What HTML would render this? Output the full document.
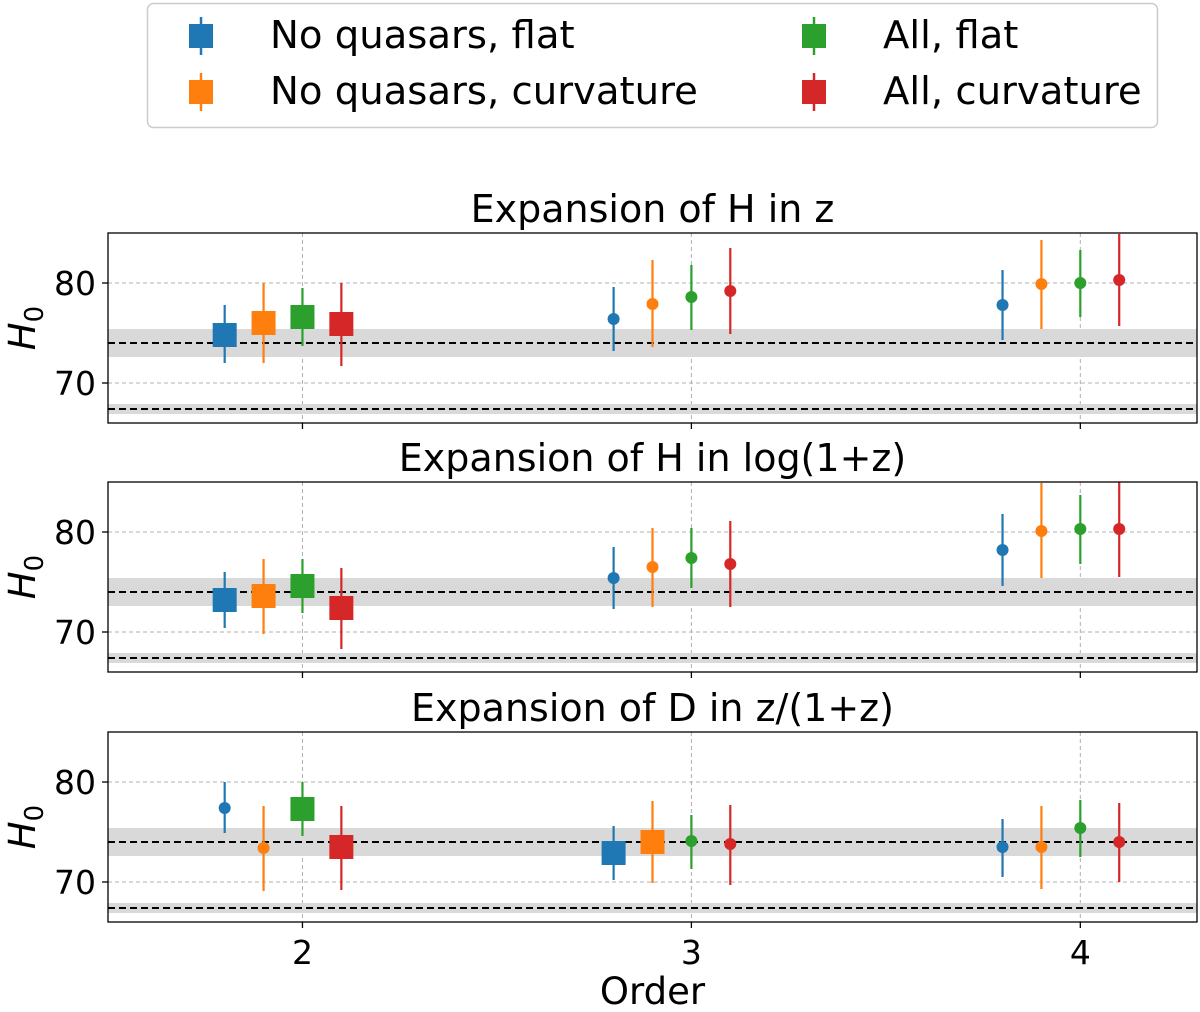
<!DOCTYPE html>
<html><head><meta charset="utf-8">
<style>
html,body{margin:0;padding:0;background:#fff;}
svg{display:block;font-family:"DejaVu Sans","Liberation Sans",sans-serif;}
</style></head>
<body>
<svg id="chart" width="1200" height="1012" viewBox="0 0 1200 1012" xmlns="http://www.w3.org/2000/svg">
<g>
<rect x="147.5" y="3.5" width="1010" height="124" rx="6" fill="#fff" stroke="#ccc" stroke-width="1.5"/>
<g><line x1="201" y1="17" x2="201" y2="55" stroke="#1f77b4" stroke-width="2.5"/><rect x="189" y="24" width="24" height="24" fill="#1f77b4"/><text x="270" y="48" font-size="38.6">No quasars, flat</text></g>
<g><line x1="201" y1="73" x2="201" y2="111" stroke="#ff7f0e" stroke-width="2.5"/><rect x="189" y="80" width="24" height="24" fill="#ff7f0e"/><text x="270" y="104" font-size="38.6">No quasars, curvature</text></g>
<g><line x1="814" y1="17" x2="814" y2="55" stroke="#2ca02c" stroke-width="2.5"/><rect x="802" y="24" width="24" height="24" fill="#2ca02c"/><text x="883" y="48" font-size="38.6">All, flat</text></g>
<g><line x1="814" y1="73" x2="814" y2="111" stroke="#d62728" stroke-width="2.5"/><rect x="802" y="80" width="24" height="24" fill="#d62728"/><text x="883" y="104" font-size="38.6">All, curvature</text></g>
</g>
</svg>
<script>
const titles = ["Expansion of H in z","Expansion of H in log(1+z)","Expansion of D in z/(1+z)"];
const orders = [2,3,4];
const seriesNames = ["no-quasars-flat","no-quasars-curvature","all-flat","all-curvature"];
const offsets = [-0.2,-0.1,0,0.1];
const values = [
 [[74.8,76.4,77.8],[76.0,77.9,79.9],[76.6,78.6,80.0],[75.9,79.2,80.3]],
 [[73.2,75.4,78.2],[73.6,76.5,80.1],[74.6,77.4,80.3],[72.4,76.8,80.3]],
 [[77.4,72.9,73.5],[73.4,74.0,73.5],[77.3,74.1,75.4],[73.5,73.8,74.0]]
];
const lows = [
 [[72.0,73.2,74.3],[72.0,73.6,75.4],[73.7,75.3,76.6],[71.7,74.9,75.7]],
 [[70.4,72.3,74.6],[69.8,72.5,75.4],[71.9,74.4,76.8],[68.3,72.5,75.5]],
 [[74.9,70.2,70.5],[69.1,69.9,69.3],[74.6,71.3,72.5],[69.2,69.7,70.0]]
];
const highs = [
 [[77.8,79.6,81.3],[80.0,82.3,84.3],[79.5,81.8,83.3],[80.0,83.5,84.9]],
 [[76.0,78.5,81.8],[77.3,80.4,84.9],[77.3,80.4,83.7],[76.4,81.1,85.0]],
 [[80.0,75.6,76.3],[77.6,78.1,77.6],[80.0,76.7,78.2],[77.6,77.7,77.9]]
];
const squares = [
 [[1,0,0],[1,0,0],[1,0,0],[1,0,0]],
 [[1,0,0],[1,0,0],[1,0,0],[1,0,0]],
 [[0,1,0],[0,1,0],[1,0,0],[1,0,0]]
];
const refValues = [74.0, 67.4];
const refErrors = [1.4, 0.5];
const yTicks = [70,80];
const colors = ["#1f77b4","#ff7f0e","#2ca02c","#d62728"];
const NS = "http://www.w3.org/2000/svg";
const svg = document.getElementById("chart");
const L=108,R=1197,xmin=1.5,xmax=4.3,ymin=66,ymax=85;
const tops=[233,482,732],H=190;
function sx(v){return L+(v-xmin)/(xmax-xmin)*(R-L);}
function mk(tag,attrs,parent){const e=document.createElementNS(NS,tag);for(const k in attrs)e.setAttribute(k,attrs[k]);(parent||svg).appendChild(e);return e;}
titles.forEach((t,p)=>{
  const top=tops[p];
  const sy=v=>top+(ymax-v)/(ymax-ymin)*H;
  const g=mk("g",{});
  
  
  const cp="clip"+p;
  const c=mk("clipPath",{id:cp},g);mk("rect",{x:L,y:top,width:R-L,height:H},c);
  const inner=mk("g",{"clip-path":"url(#"+cp+")"},g);
  orders.forEach(o=>{const l=mk("line",{x1:sx(o),x2:sx(o),y1:top,y2:top+H,stroke:"#b0b0b0","stroke-width":1,"stroke-dasharray":"4,3"},inner);
    });
  yTicks.forEach(v=>{const l=mk("line",{x1:L,x2:R,y1:sy(v),y2:sy(v),stroke:"#b0b0b0","stroke-width":1,"stroke-dasharray":"4,3"},inner);
    });
  refValues.forEach((v,i)=>{
    const b=mk("rect",{x:L,y:sy(v+refErrors[i]),width:R-L,height:sy(v-refErrors[i])-sy(v+refErrors[i]),fill:"#d9d9d9"},inner);
    
    const l=mk("line",{x1:L,x2:R,y1:sy(v),y2:sy(v),stroke:"#000","stroke-width":2,"stroke-dasharray":"7,4"},inner);
    
  });
  values[p].forEach((ser,s)=>{
    ser.forEach((v,oi)=>{
      const x=sx(orders[oi]+offsets[s]);
      const e=mk("line",{x1:x,x2:x,y1:sy(lows[p][s][oi]),y2:sy(highs[p][s][oi]),stroke:colors[s],"stroke-width":2.2},inner);
      
      
      let m;
      if(squares[p][s][oi]) m=mk("rect",{x:x-12,y:sy(v)-12,width:24,height:24,fill:colors[s]},inner);
      else m=mk("circle",{cx:x,cy:sy(v),r:6,fill:colors[s]},inner);
      
      
    });
  });
  mk("rect",{x:L,y:top,width:R-L,height:H,fill:"none",stroke:"#000","stroke-width":1.3},g);
  yTicks.forEach(v=>{mk("line",{x1:L-6,x2:L,y1:sy(v),y2:sy(v),stroke:"#000","stroke-width":1.3},g);
    const t=mk("text",{x:L-12,y:sy(v)+12,"font-size":33,"text-anchor":"end"},g);t.textContent=v;
    });
  orders.forEach(o=>{mk("line",{x1:sx(o),x2:sx(o),y1:top+H,y2:top+H+6,stroke:"#000","stroke-width":1.3},g);
    if(p===2){const t=mk("text",{x:sx(o),y:top+H+42,"font-size":33,"text-anchor":"middle"},g);t.textContent=o;
      }});
  const tt=mk("text",{x:(L+R)/2,y:top-11,"font-size":38,"text-anchor":"middle"},g);tt.textContent=t;
  
  const yl=mk("text",{x:0,y:0,"font-size":37,"font-style":"italic","text-anchor":"middle",transform:"translate(35,"+(top+H/2)+") rotate(-90)"},g);
  
  yl.appendChild(document.createTextNode("H"));
  const sub=mk("tspan",{"font-size":26,"font-style":"normal",dy:8},yl);sub.textContent="0";
});
const xt=mk("text",{x:(L+R)/2,y:1004,"font-size":37,"text-anchor":"middle"});xt.textContent="Order";

</script>
</body></html>
